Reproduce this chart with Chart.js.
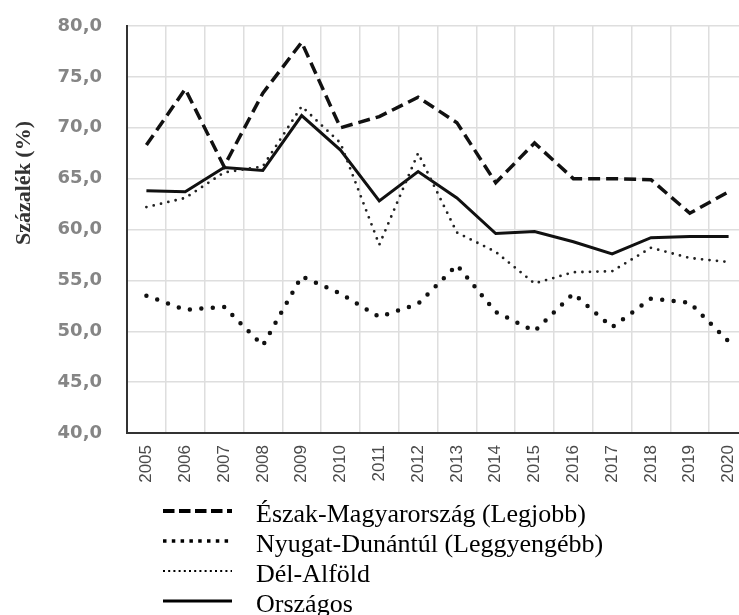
<!DOCTYPE html>
<html><head><meta charset="utf-8">
<script src="https://cdn.jsdelivr.net/npm/chart.js@4/dist/chart.umd.min.js"></script>
<style>
html,body{margin:0;padding:0;background:#fff;overflow:hidden;width:739px;height:615px}
#wrap{position:relative;width:750px;height:615px}
</style></head>
<body><div id="wrap"><canvas id="c" width="750" height="615"></canvas></div>
<script>
const years = ['2005','2006','2007','2008','2009','2010','2011','2012','2013','2014','2015','2016','2017','2018','2019','2020'];
const eszakMagyarorszag = [68.3,73.8,66.2,73.4,78.4,70.0,71.1,73.0,70.5,64.6,68.5,65.0,65.0,64.9,61.6,63.7];
const nyugatDunantul   = [53.5,52.1,52.4,48.6,55.4,53.7,51.4,52.7,56.5,51.9,50.0,53.7,50.4,53.2,52.8,49.0];
const delAlfold        = [62.2,63.1,65.6,66.2,72.1,68.5,58.5,67.5,59.7,57.8,54.7,55.8,55.9,58.2,57.2,56.8];
const orszagos         = [63.8,63.7,66.1,65.8,71.2,67.8,62.8,65.7,63.1,59.6,59.8,58.8,57.6,59.2,59.3,59.3];
const seriesNames = ['Észak-Magyarország (Legjobb)','Nyugat-Dunántúl (Leggyengébb)','Dél-Alföld','Országos'];
const yMin = 40, yMax = 80, yStep = 5;
const yTitle = 'Százalék (%)';

const legendStyles = [
  {dash:[11.5,4.5], width:4, cap:'butt'},
  {dash:[3.5,5.3], width:3.5, cap:'butt'},
  {dash:[2,3.2], width:2, cap:'butt'},
  {dash:[], width:3, cap:'butt'}
];

const extras = {
  id:'extras',
  afterDraw(chart){
    const ctx = chart.ctx;
    ctx.save();
    ctx.translate(24,183);
    ctx.rotate(-Math.PI/2);
    ctx.font = 'bold 22px "Liberation Serif"';
    ctx.fillStyle = '#333';
    ctx.textAlign = 'center';
    ctx.textBaseline = 'middle';
    ctx.fillText(yTitle,0,0);
    ctx.restore();
    const baselines = [522,552,582,612];
    seriesNames.forEach((name,i)=>{
      const st = legendStyles[i];
      const ly = baselines[i]-11;
      ctx.save();
      ctx.strokeStyle = '#000';
      ctx.lineWidth = st.width;
      ctx.lineCap = st.cap;
      ctx.setLineDash(st.dash);
      ctx.beginPath();
      ctx.moveTo(163,ly);
      ctx.lineTo(232,ly);
      ctx.stroke();
      ctx.restore();
      ctx.save();
      ctx.font = '26px "Liberation Serif"';
      ctx.fillStyle = '#000';
      ctx.textBaseline = 'alphabetic';
      ctx.fillText(name,256,baselines[i]);
      ctx.restore();
    });
  }
};

new Chart(document.getElementById('c'),{
  type:'line',
  data:{
    labels: years,
    datasets:[
      {label:seriesNames[0], data:eszakMagyarorszag, borderColor:'#111', borderWidth:3.5, borderDash:[12,6], pointRadius:0, tension:0, fill:false},
      {label:seriesNames[1], data:nyugatDunantul, borderColor:'#111', borderWidth:4.5, borderDash:[0,11.5], borderCapStyle:'round', pointRadius:0, tension:0, fill:false},
      {label:seriesNames[2], data:delAlfold, borderColor:'#222', borderWidth:2.8, borderDash:[0,7.5], borderCapStyle:'round', pointRadius:0, tension:0, fill:false},
      {label:seriesNames[3], data:orszagos, borderColor:'#111', borderWidth:3, pointRadius:0, tension:0, fill:false}
    ]
  },
  options:{
    responsive:false,
    animation:false,
    layout:{padding:{top:26,right:2,left:0,bottom:0}},
    plugins:{legend:{display:false}, tooltip:{enabled:false}},
    scales:{
      x:{
        offset:true,
        grid:{offset:true, color:'#dedede', lineWidth:1.5, drawTicks:false},
        border:{color:'#333', width:2},
        ticks:{minRotation:90, maxRotation:90, padding:12, color:'#4a4a4a', font:{family:'"Liberation Sans"', size:17}},
        afterFit(s){ s.height = 182; s.paddingLeft = 0; s.paddingRight = 0; }
      },
      y:{
        min:yMin, max:yMax,
        grid:{color:'#dedede', lineWidth:1.5, drawTicks:false},
        border:{color:'#333', width:2},
        ticks:{stepSize:yStep, padding:25, color:'#858585', font:{family:'"DejaVu Sans"', size:18, weight:'bold'},
          callback:(v)=>Number(v).toFixed(1).replace('.',',')},
        afterFit(s){ s.width = 127; s.paddingTop = 0; s.paddingBottom = 0; }
      }
    }
  },
  plugins:[extras]
});
</script>
</body></html>
